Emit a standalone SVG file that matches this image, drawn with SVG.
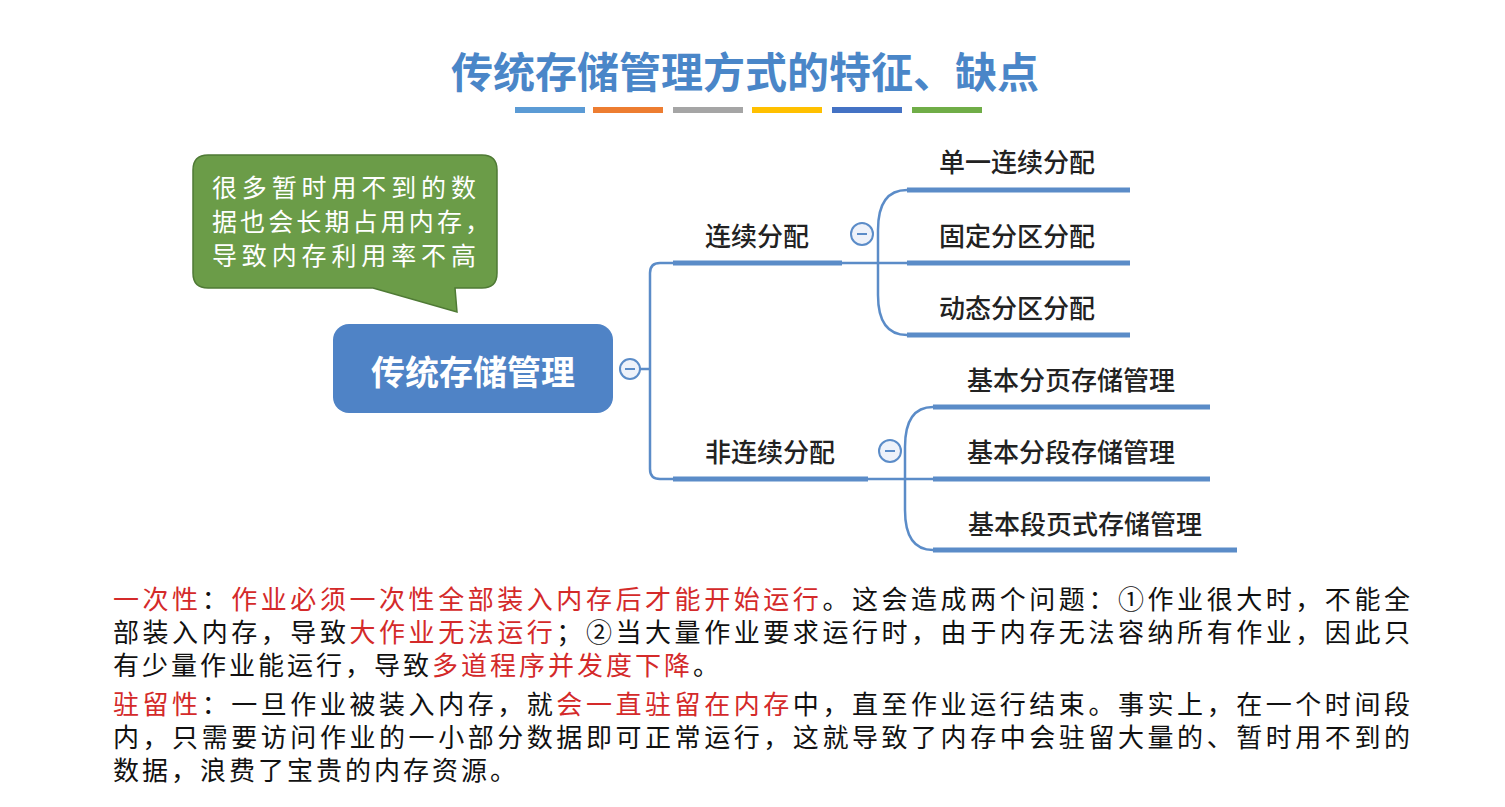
<svg xmlns="http://www.w3.org/2000/svg" width="1505" height="807" viewBox="0 0 1505 807">
<style>
text{font-family:"Noto Sans CJK SC","Noto Sans",sans-serif}
.br{fill:none;stroke:#5b8cc8;stroke-width:2.5}
.ul{stroke:#5b8cc8;stroke-width:5}
.lb{font-size:26px;fill:#222;font-weight:500}
.cc{fill:#eef2fa;stroke:#5b8cc8;stroke-width:2}
.body{font-size:26px;fill:#111}
.ls{letter-spacing:3px}
.r{fill:#d42a2a}
</style>
<rect width="1505" height="807" fill="#fff"/>
<text x="745" y="88" text-anchor="middle" font-size="42" font-weight="bold" fill="#4a86c8">传统存储管理方式的特征、缺点</text>
<g>
<rect x="515" y="107" width="70" height="6" fill="#5b9bd5"/>
<rect x="593" y="107" width="70" height="6" fill="#ed7d31"/>
<rect x="673" y="107" width="70" height="6" fill="#a5a5a5"/>
<rect x="752" y="107" width="70" height="6" fill="#ffc000"/>
<rect x="832" y="107" width="70" height="6" fill="#4472c4"/>
<rect x="912" y="107" width="70" height="6" fill="#70ad47"/>
</g>
<g id="callout">
<path d="M208,155 H482 Q497,155 497,170 V273 Q497,288 482,288 H455 L457,312 L373,288 H208 Q193,288 193,273 V170 Q193,155 208,155 Z" fill="#6b9c48" stroke="#4f7a35" stroke-width="1.5"/>
<text font-size="25" fill="#fff"><tspan x="212" y="197" textLength="264">很多暂时用不到的数</tspan><tspan x="212" y="231" textLength="278">据也会长期占用内存，</tspan><tspan x="212" y="265" textLength="264">导致内存利用率不高</tspan></text>
</g>
<g id="connectors">
<path class="br" d="M640,369 H650 M660,263 Q650,263 650,273 V469 Q650,479 660,479 H673"/>
<path class="br" d="M660,263 H673"/>
<path class="br" d="M842,263 H907 M907,190 Q878,190 878,230 V295 Q878,335 907,335"/>
<path class="br" d="M868,479 H933 M933,407 Q905,407 905,447 V510 Q905,550 933,550"/>
</g>
<g id="root">
<rect x="333" y="324" width="280" height="89" rx="16" fill="#4f83c6"/>
<text x="473" y="385" text-anchor="middle" font-size="34" font-weight="bold" fill="#fff">传统存储管理</text>
<circle class="cc" cx="630" cy="369" r="10"/><line x1="625" y1="369" x2="635" y2="369" stroke="#5b8cc8" stroke-width="2"/>
</g>
<g id="n1"><line class="ul" x1="673" y1="263" x2="842" y2="263"/><text class="lb" x="757" y="246" text-anchor="middle">连续分配</text>
<circle class="cc" cx="862" cy="234" r="11"/><line x1="857" y1="234" x2="867" y2="234" stroke="#5b8cc8" stroke-width="2"/></g>
<g id="n2"><line class="ul" x1="673" y1="479" x2="868" y2="479"/><text class="lb" x="770" y="462" text-anchor="middle">非连续分配</text>
<circle class="cc" cx="890" cy="451" r="11"/><line x1="885" y1="451" x2="895" y2="451" stroke="#5b8cc8" stroke-width="2"/></g>
<g id="c1"><line class="ul" x1="907" y1="190" x2="1130" y2="190"/><text class="lb" x="1017" y="172" text-anchor="middle">单一连续分配</text></g>
<g id="c2"><line class="ul" x1="907" y1="263" x2="1130" y2="263"/><text class="lb" x="1017" y="246" text-anchor="middle">固定分区分配</text></g>
<g id="c3"><line class="ul" x1="907" y1="335" x2="1130" y2="335"/><text class="lb" x="1017" y="318" text-anchor="middle">动态分区分配</text></g>
<g id="c4"><line class="ul" x1="933" y1="407" x2="1210" y2="407"/><text class="lb" x="1071" y="390" text-anchor="middle">基本分页存储管理</text></g>
<g id="c5"><line class="ul" x1="933" y1="479" x2="1210" y2="479"/><text class="lb" x="1071" y="462" text-anchor="middle">基本分段存储管理</text></g>
<g id="c6"><line class="ul" x1="933" y1="550" x2="1237" y2="550"/><text class="lb" x="1085" y="534" text-anchor="middle">基本段页式存储管理</text></g>
<g class="body">
<text class="body" x="113" y="609" textLength="1297" lengthAdjust="spacing"><tspan class="r">一次性</tspan>：<tspan class="r">作业必须一次性全部装入内存后才能开始运行</tspan>。这会造成两个问题：①作业很大时，不能全</text>
<text class="body" x="113" y="642" textLength="1297" lengthAdjust="spacing">部装入内存，导致<tspan class="r">大作业无法运行</tspan>；②当大量作业要求运行时，由于内存无法容纳所有作业，因此只</text>
<text class="body ls" x="113" y="675">有少量作业能运行，导致<tspan class="r">多道程序并发度下降</tspan>。</text>
<text class="body" x="113" y="714" textLength="1297" lengthAdjust="spacing"><tspan class="r">驻留性</tspan>：一旦作业被装入内存，就<tspan class="r">会一直驻留在内存</tspan>中，直至作业运行结束。事实上，在一个时间段</text>
<text class="body" x="113" y="747" textLength="1297" lengthAdjust="spacing">内，只需要访问作业的一小部分数据即可正常运行，这就导致了内存中会驻留大量的、暂时用不到的</text>
<text class="body ls" x="113" y="780">数据，浪费了宝贵的内存资源。</text>
</g>
</svg>
